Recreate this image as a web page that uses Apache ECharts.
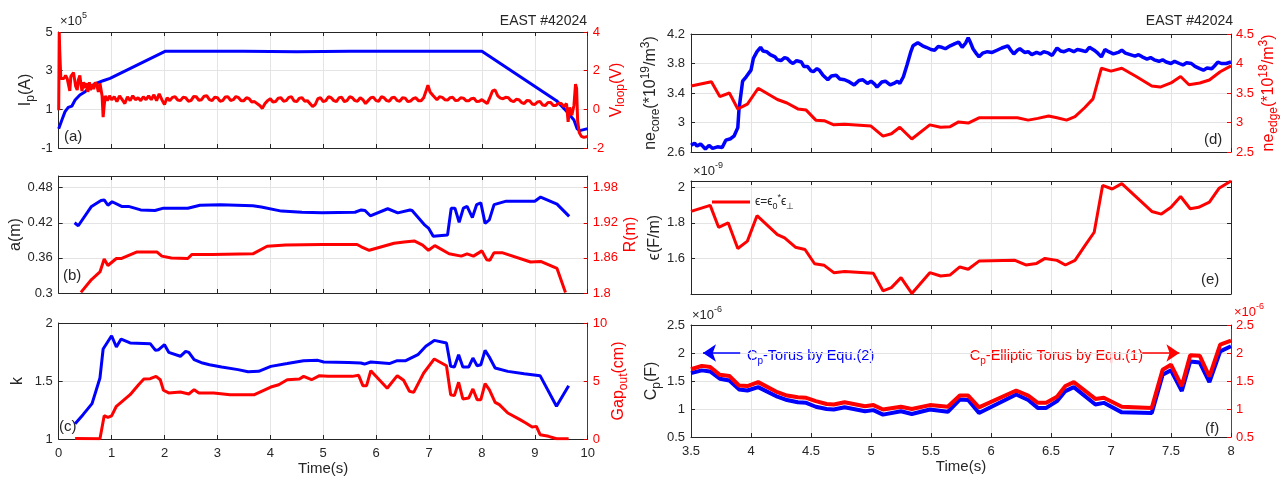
<!DOCTYPE html>
<html><head><meta charset="utf-8">
<script src="https://cdn.jsdelivr.net/npm/echarts@6/dist/echarts.min.js"></script>
<style>html,body{margin:0;padding:0;background:#fff}#c{width:1282px;height:483px}</style>
</head><body><div id="c"></div>
<script>
// ---------------- DATA ----------------
// Panel (a): plasma current Ip (units of 1e5 A) and loop voltage (V) vs time (s)
const ipData = [[0,0.0],[0.06,0.45],[0.12,0.88],[0.18,1.1],[0.25,1.17],[0.31,1.48],[0.4,1.74],[0.5,1.91],[0.59,2.17],[0.72,2.35],[0.84,2.48],[0.97,2.6],[2.01,4.0],[3.5,4.0],[4.5,3.98],[5.5,4.0],[8.0,4.0],[9.41,1.45],[9.6,0.9],[9.74,0.45],[9.8,0.0],[9.85,-0.1],[10,0.0]];
const vloopData = [[0,-0.05],[0.01,4.0],[0.02,3.0],[0.04,1.6],[0.07,1.7],[0.1,1.6],[0.13,1.75],[0.16,1.6],[0.19,1.7],[0.21,0.95],[0.23,1.7],[0.26,1.75],[0.28,1.9],[0.3,1.55],[0.32,1.2],[0.35,1.0],[0.37,1.5],[0.4,1.75],[0.42,1.3],[0.44,0.95],[0.47,1.4],[0.5,1.1],[0.53,1.35],[0.55,0.9],[0.58,1.4],[0.6,1.0],[0.63,1.3],[0.66,1.05],[0.69,1.4],[0.72,1.25],[0.75,0.9],[0.78,1.35],[0.8,1.25],[0.82,0.7],[0.84,-0.4],[0.86,0.2],[0.88,0.7],[0.92,0.45],[0.96,0.7],[1.0,0.5],[1.05,0.65],[1.1,0.4],[1.15,0.7],[1.2,0.5],[1.25,0.3],[1.3,0.65],[1.35,0.45],[1.4,0.7],[1.45,0.5],[1.5,0.6],[1.55,0.45],[1.6,0.65],[1.65,0.5],[1.7,0.7],[1.75,0.5],[1.8,0.75],[1.85,0.45],[1.9,0.8],[1.95,0.5],[2.0,0.25],[2.05,0.6],[2.1,0.45],[2.15,0.62],[2.2,0.65],[2.25,0.48],[2.3,0.45],[2.35,0.62],[2.4,0.6],[2.45,0.42],[2.5,0.45],[2.55,0.66],[2.6,0.65],[2.65,0.47],[2.7,0.5],[2.75,0.68],[2.8,0.7],[2.85,0.5],[2.9,0.45],[2.95,0.63],[3.0,0.6],[3.05,0.42],[3.1,0.45],[3.15,0.64],[3.2,0.65],[3.25,0.46],[3.3,0.5],[3.35,0.66],[3.4,0.6],[3.45,0.44],[3.5,0.45],[3.55,0.6],[3.6,0.55],[3.65,0.38],[3.7,0.4],[3.8,0.2],[3.85,0.05],[3.9,0.3],[3.95,0.45],[4.0,0.55],[4.05,0.38],[4.1,0.4],[4.15,0.58],[4.2,0.6],[4.25,0.42],[4.3,0.45],[4.35,0.62],[4.4,0.65],[4.45,0.43],[4.5,0.4],[4.55,0.58],[4.6,0.6],[4.65,0.42],[4.7,0.45],[4.8,0.15],[4.85,0.25],[4.9,0.55],[4.95,0.6],[5.0,0.4],[5.05,0.45],[5.1,0.65],[5.15,0.6],[5.2,0.45],[5.25,0.4],[5.3,0.6],[5.35,0.62],[5.4,0.4],[5.45,0.45],[5.5,0.65],[5.55,0.6],[5.6,0.45],[5.65,0.42],[5.7,0.6],[5.75,0.5],[5.8,0.3],[5.85,0.45],[5.9,0.6],[5.95,0.62],[6.0,0.45],[6.05,0.42],[6.1,0.65],[6.15,0.6],[6.2,0.45],[6.25,0.42],[6.3,0.6],[6.35,0.62],[6.4,0.45],[6.45,0.42],[6.5,0.6],[6.55,0.58],[6.6,0.4],[6.65,0.43],[6.7,0.55],[6.75,0.6],[6.8,0.45],[6.85,0.44],[6.9,0.6],[6.95,1.0],[6.98,1.25],[7.02,0.9],[7.08,0.7],[7.15,0.5],[7.2,0.65],[7.25,0.62],[7.3,0.5],[7.35,0.48],[7.4,0.6],[7.45,0.62],[7.5,0.45],[7.55,0.47],[7.6,0.6],[7.65,0.58],[7.7,0.45],[7.75,0.44],[7.8,0.55],[7.85,0.57],[7.9,0.4],[7.95,0.42],[8.0,0.5],[8.1,0.3],[8.15,0.6],[8.2,0.95],[8.25,1.0],[8.3,0.7],[8.35,0.58],[8.4,0.55],[8.45,0.62],[8.5,0.6],[8.55,0.45],[8.6,0.4],[8.65,0.52],[8.7,0.5],[8.75,0.35],[8.8,0.3],[8.85,0.46],[8.9,0.45],[8.95,0.28],[9.0,0.25],[9.05,0.38],[9.1,0.4],[9.15,0.22],[9.2,0.2],[9.25,0.36],[9.3,0.35],[9.35,0.2],[9.4,0.2],[9.45,0.32],[9.5,0.3],[9.55,0.15],[9.6,0.3],[9.63,-0.65],[9.66,0.1],[9.7,-0.3],[9.74,0.2],[9.77,1.3],[9.79,1.1],[9.81,-0.6],[9.84,-1.2],[9.88,-1.4],[9.93,-1.45],[10.0,-1.4]];

// Panel (b): minor radius a (m) and major radius R (m)
const aData = [[0.3,0.42],[0.37,0.415],[0.62,0.448],[0.8,0.458],[0.86,0.459],[0.93,0.45],[1.01,0.456],[1.19,0.448],[1.32,0.448],[1.55,0.442],[1.82,0.441],[1.98,0.445],[2.44,0.445],[2.67,0.45],[3.06,0.451],[3.67,0.449],[3.83,0.447],[4.21,0.44],[4.6,0.438],[4.98,0.437],[5.6,0.438],[5.72,0.442],[5.79,0.441],[5.89,0.432],[6.22,0.444],[6.41,0.437],[6.64,0.442],[6.68,0.441],[6.91,0.417],[6.99,0.411],[7.08,0.397],[7.35,0.399],[7.42,0.445],[7.49,0.445],[7.57,0.421],[7.65,0.445],[7.72,0.448],[7.82,0.429],[7.9,0.451],[7.98,0.454],[8.06,0.419],[8.14,0.425],[8.23,0.451],[8.46,0.457],[9.0,0.457],[9.11,0.464],[9.42,0.452],[9.65,0.431]];
const rData = [[0.42,1.801],[0.62,1.823],[0.78,1.836],[0.86,1.858],[0.93,1.847],[1.09,1.859],[1.19,1.859],[1.47,1.87],[1.86,1.87],[1.95,1.863],[2.13,1.86],[2.44,1.859],[2.52,1.866],[2.9,1.866],[3.67,1.867],[3.94,1.88],[4.29,1.882],[4.98,1.883],[5.64,1.883],[5.72,1.879],[5.87,1.873],[6.34,1.885],[6.53,1.887],[6.72,1.889],[6.88,1.882],[6.99,1.873],[7.11,1.881],[7.38,1.867],[7.61,1.863],[7.72,1.867],[7.84,1.863],[8.0,1.872],[8.09,1.857],[8.15,1.856],[8.23,1.869],[8.38,1.869],[8.92,1.853],[9.11,1.854],[9.42,1.842],[9.58,1.801]];

// Panel (c): elongation k and outer gap (cm)
const kData = [[0.31,1.132],[0.46,1.21],[0.63,1.305],[0.78,1.526],[0.84,1.776],[1.0,1.89],[1.09,1.793],[1.18,1.862],[1.35,1.828],[1.73,1.822],[1.83,1.764],[1.89,1.77],[2.0,1.813],[2.08,1.747],[2.3,1.713],[2.4,1.756],[2.46,1.747],[2.56,1.684],[2.72,1.655],[2.85,1.64],[3.08,1.62],[3.39,1.598],[3.58,1.58],[3.78,1.583],[4.01,1.626],[4.32,1.65],[4.63,1.675],[4.9,1.678],[5.01,1.664],[5.48,1.66],[5.71,1.655],[5.78,1.646],[5.9,1.664],[6.25,1.65],[6.4,1.675],[6.56,1.675],[6.79,1.727],[6.94,1.8],[7.1,1.85],[7.33,1.828],[7.41,1.626],[7.48,1.62],[7.56,1.727],[7.64,1.62],[7.75,1.62],[7.83,1.698],[7.91,1.632],[7.98,1.64],[8.06,1.764],[8.14,1.707],[8.25,1.612],[8.49,1.583],[8.8,1.563],[9.1,1.546],[9.41,1.282],[9.64,1.46]];
const gapData = [[0.31,0.05],[0.78,0.02],[0.86,2.01],[0.93,1.87],[1.0,2.0],[1.09,2.82],[1.35,3.82],[1.51,4.68],[1.61,5.17],[1.73,5.2],[1.84,5.4],[1.92,5.11],[1.98,4.2],[2.08,3.97],[2.3,4.05],[2.46,3.88],[2.56,4.25],[2.65,3.97],[2.93,3.97],[3.24,3.82],[3.7,3.82],[4.01,4.48],[4.16,4.68],[4.32,5.11],[4.55,5.17],[4.63,5.4],[4.78,5.11],[4.93,5.46],[5.09,5.4],[5.55,5.4],[5.67,5.49],[5.75,4.6],[5.82,4.6],[5.9,5.89],[6.21,4.37],[6.4,5.46],[6.52,5.06],[6.63,4.11],[6.71,4.02],[6.9,5.69],[7.1,6.9],[7.33,6.32],[7.41,3.82],[7.48,3.74],[7.56,4.89],[7.64,3.45],[7.75,3.53],[7.83,4.31],[7.91,3.39],[7.98,3.39],[8.06,4.77],[8.14,4.25],[8.25,3.16],[8.33,2.96],[8.49,2.24],[8.72,1.67],[8.83,1.38],[8.95,1.03],[9.03,1.09],[9.1,0.37],[9.26,0.23],[9.41,0.02],[9.64,0.02]];

// Panel (d): core density (1e19 m^-3) and edge density (1e18 m^-3)
const neCoreData = [[3.5,2.69],[3.53,2.72],[3.55,2.68],[3.58,2.71],[3.62,2.64],[3.65,2.69],[3.68,2.65],[3.72,2.67],[3.76,2.66],[3.79,2.76],[3.83,2.78],[3.86,2.82],[3.89,2.93],[3.9,3.18],[3.93,3.56],[3.96,3.62],[4.0,3.71],[4.02,3.87],[4.05,3.96],[4.08,4.02],[4.1,3.97],[4.13,3.96],[4.16,3.92],[4.2,3.89],[4.22,3.85],[4.25,3.84],[4.28,3.88],[4.3,3.87],[4.33,3.82],[4.35,3.8],[4.38,3.84],[4.42,3.82],[4.44,3.76],[4.47,3.76],[4.5,3.7],[4.52,3.69],[4.55,3.73],[4.57,3.71],[4.6,3.64],[4.64,3.58],[4.67,3.63],[4.71,3.64],[4.74,3.59],[4.78,3.58],[4.82,3.55],[4.86,3.51],[4.9,3.57],[4.93,3.58],[4.97,3.53],[5.0,3.56],[5.03,3.52],[5.05,3.48],[5.09,3.55],[5.12,3.56],[5.16,3.51],[5.19,3.53],[5.22,3.56],[5.24,3.53],[5.27,3.62],[5.3,3.78],[5.33,3.95],[5.35,4.04],[5.39,4.08],[5.43,4.04],[5.46,4.02],[5.5,3.99],[5.53,3.98],[5.56,4.03],[5.59,4.02],[5.62,4.0],[5.66,4.04],[5.7,4.07],[5.73,4.09],[5.76,4.02],[5.79,4.08],[5.81,4.15],[5.83,4.08],[5.85,4.0],[5.88,3.93],[5.9,3.89],[5.93,3.94],[5.97,3.96],[6.01,3.95],[6.05,3.98],[6.09,4.01],[6.14,4.04],[6.17,3.97],[6.19,3.93],[6.22,3.98],[6.24,4.0],[6.28,3.95],[6.31,3.96],[6.34,3.92],[6.38,3.95],[6.41,3.93],[6.44,3.96],[6.48,3.94],[6.51,3.91],[6.55,4.01],[6.58,3.97],[6.61,3.96],[6.65,3.99],[6.69,3.96],[6.72,3.99],[6.75,3.98],[6.79,3.96],[6.82,4.02],[6.86,3.98],[6.89,3.94],[6.92,3.89],[6.95,3.99],[6.98,3.96],[7.02,3.93],[7.06,3.95],[7.09,3.98],[7.12,3.94],[7.16,3.92],[7.2,3.9],[7.23,3.92],[7.26,3.89],[7.3,3.86],[7.33,3.88],[7.36,3.85],[7.4,3.83],[7.43,3.85],[7.46,3.82],[7.5,3.8],[7.53,3.83],[7.57,3.8],[7.6,3.78],[7.63,3.81],[7.67,3.8],[7.7,3.76],[7.74,3.73],[7.77,3.71],[7.8,3.74],[7.84,3.73],[7.87,3.78],[7.89,3.82],[7.92,3.8],[7.96,3.8],[8.0,3.82]];
const neEdgeData = [[3.5,3.62],[3.67,3.69],[3.74,3.44],[3.82,3.5],[3.89,3.23],[3.97,3.31],[4.06,3.58],[4.22,3.39],[4.3,3.33],[4.39,3.23],[4.46,3.21],[4.54,3.04],[4.61,3.03],[4.69,2.96],[4.78,2.97],[5.0,2.94],[5.1,2.77],[5.17,2.81],[5.24,2.92],[5.34,2.72],[5.49,2.96],[5.58,2.92],[5.66,2.93],[5.73,3.01],[5.81,2.99],[5.9,3.08],[6.22,3.08],[6.31,3.04],[6.39,3.07],[6.48,3.11],[6.55,3.08],[6.63,3.04],[6.7,3.1],[6.78,3.25],[6.85,3.4],[6.92,3.92],[7.0,3.87],[7.09,3.92],[7.21,3.78],[7.34,3.62],[7.41,3.6],[7.5,3.67],[7.58,3.78],[7.65,3.64],[7.74,3.67],[7.82,3.72],[7.91,3.86],[8.0,3.96]];

// Panel (e): permittivity (1e-9 F/m)
const epsData = [[3.5,1.864],[3.66,1.898],[3.73,1.775],[3.81,1.8],[3.89,1.656],[3.97,1.697],[4.05,1.84],[4.22,1.734],[4.28,1.715],[4.37,1.663],[4.45,1.65],[4.53,1.57],[4.61,1.561],[4.69,1.52],[4.78,1.526],[5.02,1.516],[5.1,1.418],[5.17,1.436],[5.25,1.492],[5.34,1.403],[5.49,1.52],[5.58,1.501],[5.66,1.507],[5.74,1.552],[5.81,1.539],[5.9,1.585],[6.2,1.589],[6.29,1.563],[6.38,1.572],[6.45,1.6],[6.55,1.589],[6.62,1.563],[6.7,1.589],[6.78,1.669],[6.86,1.747],[6.93,2.01],[7.01,1.99],[7.09,2.02],[7.34,1.864],[7.42,1.849],[7.5,1.887],[7.58,1.948],[7.66,1.879],[7.73,1.887],[7.82,1.916],[7.9,1.994],[8.0,2.035]];

// Panel (f): plasma capacitance Cp (1e-6 F)
const cpTime  = [3.5,3.59,3.66,3.74,3.82,3.9,3.97,4.06,4.22,4.3,4.39,4.46,4.54,4.63,4.69,4.78,4.95,5.02,5.1,5.25,5.34,5.49,5.64,5.74,5.81,5.9,6.21,6.31,6.39,6.46,6.55,6.62,6.69,6.87,6.94,7.09,7.34,7.43,7.5,7.59,7.66,7.74,7.82,7.91,8.0];
const cpTorus = [1.64,1.69,1.67,1.54,1.51,1.35,1.33,1.39,1.22,1.16,1.12,1.11,1.04,1.0,0.99,1.03,0.96,0.98,0.9,0.96,0.91,0.99,0.95,1.17,1.16,0.93,1.26,1.16,1.02,1.02,1.14,1.32,1.39,1.08,1.11,0.94,0.93,1.61,1.69,1.32,1.85,1.83,1.48,2.03,2.12];
const cpEllip = [1.71,1.77,1.75,1.61,1.59,1.42,1.41,1.48,1.3,1.24,1.21,1.2,1.14,1.09,1.08,1.12,1.05,1.07,0.99,1.04,1.0,1.07,1.04,1.24,1.24,1.03,1.33,1.24,1.11,1.11,1.22,1.41,1.48,1.18,1.2,1.04,1.02,1.7,1.79,1.41,1.96,1.95,1.58,2.15,2.22];

// ---------------- STYLE ----------------
const BLACK='#262626', BLUE='#0000ff', RED='#ff0000', REDAX='#d80000', GRIDC='#e4e4e4';
const FF='Liberation Sans';

function rich(color, size){
  size = size || 16;
  return {
    m:{fontSize:size,fontFamily:FF,color:color,lineHeight:size+6},
    s:{fontSize:Math.round(size*0.72),fontFamily:FF,color:color,lineHeight:Math.round(size*0.72),verticalAlign:'bottom'},
    p:{fontSize:Math.round(size*0.72),fontFamily:FF,color:color,lineHeight:Math.round(size*0.72),verticalAlign:'top'}
  };
}
function zrich(color, size){
  const r = rich(color,size); const o={};
  for(const k in r){ o[k]={fontSize:r[k].fontSize,fontFamily:FF,fill:color,lineHeight:r[k].lineHeight,verticalAlign:r[k].verticalAlign}; }
  return o;
}

function xBottom(gi,min,max,interval,labels){
  return {type:'value',gridIndex:gi,position:'bottom',min,max,interval,
    axisLine:{show:true,onZero:false,lineStyle:{color:BLACK,width:1}},
    axisTick:{show:true,inside:true,length:4,lineStyle:{color:BLACK}},
    axisLabel:{show:labels,color:BLACK,fontSize:13,fontFamily:FF,margin:8},
    splitLine:{show:true,lineStyle:{color:GRIDC,width:1}},
    name:labels?'Time(s)':'',nameLocation:'middle',nameGap:20,
    nameTextStyle:{color:BLACK,fontSize:15,fontFamily:FF}};
}
function xTop(gi,min,max,interval){
  return {type:'value',gridIndex:gi,position:'top',min,max,interval,
    axisLine:{show:true,onZero:false,lineStyle:{color:BLACK,width:1}},
    axisTick:{show:true,inside:true,length:4,lineStyle:{color:BLACK}},
    axisLabel:{show:false},splitLine:{show:false}};
}
function yLeft(gi,min,max,interval,name,gap,hideMax,hideMin){
  return {type:'value',gridIndex:gi,position:'left',min,max,interval,
    axisLine:{show:true,onZero:false,lineStyle:{color:BLACK,width:1}},
    axisTick:{show:true,inside:true,length:4,lineStyle:{color:BLACK}},
    axisLabel:{color:BLACK,fontSize:13,fontFamily:FF,margin:6,showMaxLabel:!hideMax,showMinLabel:!hideMin},
    splitLine:{show:true,lineStyle:{color:GRIDC,width:1}},
    name:name,nameLocation:'middle',nameRotate:90,nameGap:gap,
    nameTextStyle:{rich:rich(BLACK)}};
}
function yRight(gi,min,max,interval,name,gap,hideMax,color,lineColor,showLabels){
  return {type:'value',gridIndex:gi,position:'right',min,max,interval,
    axisLine:{show:true,onZero:false,lineStyle:{color:lineColor,width:1}},
    axisTick:{show:true,inside:true,length:4,lineStyle:{color:lineColor}},
    axisLabel:{show:showLabels,color:color,fontSize:13,fontFamily:FF,margin:5,showMaxLabel:!hideMax},
    splitLine:{show:false},
    name:name,nameLocation:'middle',nameRotate:90,nameGap:gap,
    nameTextStyle:{rich:rich(color)}};
}
function line(xi,yi,data,color,w,extra){
  return Object.assign({type:'line',xAxisIndex:xi,yAxisIndex:yi,data:data,showSymbol:false,symbol:'none',
    lineStyle:{color:color,width:w},itemStyle:{color:color},silent:true,animation:false},extra||{});
}
const zip=(t,v)=>t.map((x,i)=>[x,v[i]]);

const option = {
  animation:false,
  backgroundColor:'#ffffff',
  grid:[
    {left:58.7,width:529,top:32,height:116,containLabel:false},
    {left:58.7,width:529,top:176,height:117,containLabel:false},
    {left:58.7,width:529,top:323,height:116,containLabel:false},
    {left:691,width:540,top:34,height:118,containLabel:false},
    {left:691,width:540,top:181,height:113,containLabel:false},
    {left:691,width:540,top:325,height:112,containLabel:false}
  ],
  xAxis:[
    xBottom(0,0,10,1,false), xBottom(1,0,10,1,false), xBottom(2,0,10,1,true),
    xBottom(3,3.5,8,0.5,false), xBottom(4,3.5,8,0.5,false), xBottom(5,3.5,8,0.5,true),
    xTop(0,0,10,1), xTop(1,0,10,1), xTop(2,0,10,1),
    xTop(3,3.5,8,0.5), xTop(4,3.5,8,0.5), xTop(5,3.5,8,0.5)
  ],
  yAxis:[
    yLeft(0,-1,5,2,'{m|I}{s|p}{m|(A)}',22),
    yRight(0,-2,4,2,'{m|V}{s|loop}{m|(V)}',17,false,RED,REDAX,true),
    yLeft(1,0.3,0.5,0.06,'{m|a(m)}',30,true),
    yRight(1,1.8,2.0,0.06,'{m|R(m)}',32,true,RED,REDAX,true),
    yLeft(2,1,2,0.5,'{m|k}',30),
    yRight(2,0,10,5,'{m|Gap}{s|out}{m|(cm)}',20,false,RED,REDAX,true),
    yLeft(3,2.6,4.2,0.4,'{m|ne}{s|core}{m|(*10}{p|19}{m|/m}{p|3}{m|)}',29),
    yRight(3,2.5,4.5,0.5,'{m|ne}{s|edge}{m|(*10}{p|18}{m|/m}{p|3}{m|)}',24,false,RED,RED,true),
    yLeft(4,1.4,2.035,0.2,'{m|ϵ(F/m)}',23,true,true),
    yRight(4,1.4,2.035,0.2,'',0,true,BLACK,BLACK,false),
    yLeft(5,0.5,2.5,0.5,'{m|C}{s|p}{m|(F)}',27),
    yRight(5,0.5,2.5,0.5,'',0,false,RED,RED,true)
  ],
  legend:{
    show:true,left:707,top:188,orient:'horizontal',itemWidth:38,itemHeight:12,itemGap:4,
    data:[{name:'eps',icon:'path://M0,0 L38,0 L38,3 L0,3 Z',itemStyle:{color:RED}}],
    formatter:function(){return '{m|ϵ=ϵ}{s|0}{p|*}{m|ϵ}{s|⊥}';},
    textStyle:{rich:rich(BLACK,12)},
    selectedMode:false
  },
  series:[
    line(0,0,ipData,BLUE,3),
    line(0,1,vloopData,RED,3),
    line(1,2,aData,BLUE,3),
    line(1,3,rData,RED,3),
    line(2,4,kData,BLUE,3),
    line(2,5,gapData,RED,3),
    line(3,6,neCoreData,BLUE,3.5),
    line(3,7,neEdgeData,RED,3),
    line(4,8,epsData,RED,3,{name:'eps'}),
    line(5,10,zip(cpTime,cpTorus),BLUE,4,{
      markLine:{silent:true,animation:false,symbol:['none','arrow'],symbolSize:13,
        label:{show:false},lineStyle:{color:BLUE,width:1.5,type:'solid'},
        data:[[{coord:[3.91,2.0]},{coord:[3.6,2.0]}]]}}),
    line(5,11,zip(cpTime,cpEllip),RED,4,{
      markLine:{silent:true,animation:false,symbol:['none','arrow'],symbolSize:13,
        label:{show:false},lineStyle:{color:RED,width:1.5,type:'solid'},
        data:[[{coord:[7.26,2.0]},{coord:[7.57,2.0]}]]}})
  ],
  graphic:[
    {type:'text',x:587,y:21,style:{text:'EAST #42024',fill:BLACK,font:'14px "Liberation Sans"',align:'right',verticalAlign:'middle'}},
    {type:'text',x:1233,y:21,style:{text:'EAST #42024',fill:BLACK,font:'14px "Liberation Sans"',align:'right',verticalAlign:'middle'}},
    {type:'text',x:64,y:137,style:{text:'(a)',fill:BLACK,font:'15px "Liberation Sans"',align:'left',verticalAlign:'middle'}},
    {type:'text',x:63,y:276,style:{text:'(b)',fill:BLACK,font:'15px "Liberation Sans"',align:'left',verticalAlign:'middle'}},
    {type:'text',x:59,y:427,style:{text:'(c)',fill:BLACK,font:'15px "Liberation Sans"',align:'left',verticalAlign:'middle'}},
    {type:'text',x:1204,y:140,style:{text:'(d)',fill:BLACK,font:'15px "Liberation Sans"',align:'left',verticalAlign:'middle'}},
    {type:'text',x:1201,y:280,style:{text:'(e)',fill:BLACK,font:'15px "Liberation Sans"',align:'left',verticalAlign:'middle'}},
    {type:'text',x:1205,y:429,style:{text:'(f)',fill:BLACK,font:'15px "Liberation Sans"',align:'left',verticalAlign:'middle'}},
    {type:'text',x:60,y:21,style:{text:'{m|×10}{p|5}',rich:zrich(BLACK,13),align:'left',verticalAlign:'middle'}},
    {type:'text',x:693,y:171,style:{text:'{m|×10}{p|-9}',rich:zrich(BLACK,13),align:'left',verticalAlign:'middle'}},
    {type:'text',x:692,y:315,style:{text:'{m|×10}{p|-6}',rich:zrich(BLACK,13),align:'left',verticalAlign:'middle'}},
    {type:'text',x:1234,y:312,style:{text:'{m|×10}{p|-6}',rich:zrich(RED,13),align:'left',verticalAlign:'middle'}},
    {type:'text',x:747,y:356,style:{text:'{m|C}{s|p}{m|-Torus by Equ.(2)}',rich:zrich(BLUE,14.5),align:'left',verticalAlign:'middle'}},
    {type:'text',x:1143,y:356,style:{text:'{m|C}{s|p}{m|-Elliptic Torus by Equ.(1)}',rich:zrich(RED,14.5),align:'right',verticalAlign:'middle'}}
  ]
};

const chart = echarts.init(document.getElementById('c'), null, {renderer:'canvas'});
chart.setOption(option);
</script>
</body></html>
